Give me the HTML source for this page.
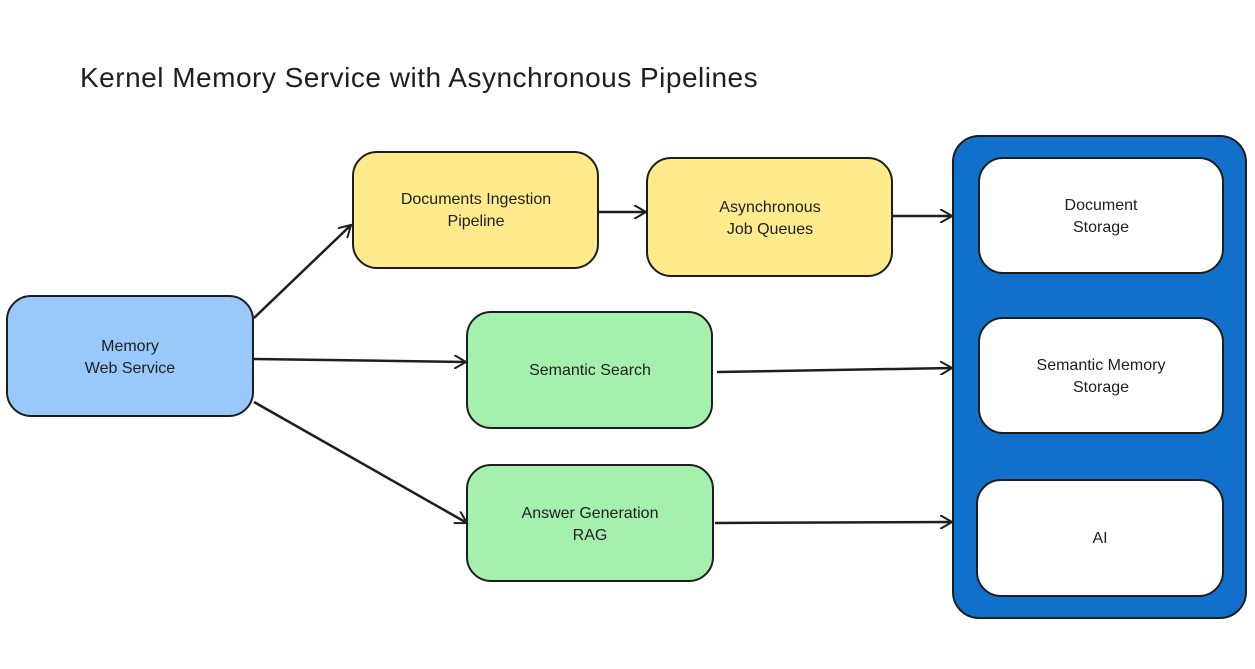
<!DOCTYPE html>
<html><head><meta charset="utf-8"><style>
html,body{margin:0;padding:0;background:#fff;}
svg{display:block}
text{font-family:"Comic Sans MS","Liberation Sans",sans-serif;fill:#1e1e1e;text-anchor:middle}
</style></head><body>
<svg width="1255" height="669" viewBox="0 0 1255 669" xmlns="http://www.w3.org/2000/svg">
<defs>
<marker id="a" markerWidth="14" markerHeight="14" refX="12" refY="7" orient="auto" markerUnits="userSpaceOnUse">
<path d="M0,0 L12,7 L0,14" fill="none" stroke="#1e1e1e" stroke-width="2"/>
</marker>
</defs>
<text x="80" y="87" style="text-anchor:start;font-size:28px;letter-spacing:0.5px">Kernel Memory Service with Asynchronous Pipelines</text>

<g stroke="#1e1e1e" stroke-width="2">
<rect x="7" y="296" width="246" height="120" rx="24" fill="#99c9fb"/>
<rect x="353" y="152" width="245" height="116" rx="24" fill="#ffea8c"/>
<rect x="647" y="158" width="245" height="118" rx="24" fill="#ffea8c"/>
<rect x="467" y="312" width="245" height="116" rx="24" fill="#a6f0ae"/>
<rect x="467" y="465" width="246" height="116" rx="24" fill="#a6f0ae"/>
<rect x="953" y="136" width="293" height="482" rx="26" fill="#1170cc"/>
<rect x="979" y="158" width="244" height="115" rx="24" fill="#fff"/>
<rect x="979" y="318" width="244" height="115" rx="24" fill="#fff"/>
<rect x="977" y="480" width="246" height="116" rx="24" fill="#fff"/>
</g>

<g stroke="#1e1e1e" stroke-width="2.5" fill="none" marker-end="url(#a)">
<line x1="254" y1="318" x2="351" y2="225"/>
<line x1="254" y1="359" x2="466" y2="362"/>
<line x1="254" y1="402" x2="467" y2="523"/>
<line x1="598" y1="212" x2="646" y2="212"/>
<line x1="892" y1="216" x2="952" y2="216"/>
<line x1="717" y1="372" x2="952" y2="368"/>
<line x1="715" y1="523" x2="952" y2="522"/>
</g>

<g style="font-size:16px">
<text x="130" y="351">Memory</text>
<text x="130" y="373">Web Service</text>
<text x="476" y="204">Documents Ingestion</text>
<text x="476" y="226">Pipeline</text>
<text x="770" y="212">Asynchronous</text>
<text x="770" y="234">Job Queues</text>
<text x="590" y="375">Semantic Search</text>
<text x="590" y="518">Answer Generation</text>
<text x="590" y="540">RAG</text>
<text x="1101" y="210">Document</text>
<text x="1101" y="232">Storage</text>
<text x="1101" y="370">Semantic Memory</text>
<text x="1101" y="392">Storage</text>
<text x="1100" y="543">AI</text>
</g>
</svg>
</body></html>
